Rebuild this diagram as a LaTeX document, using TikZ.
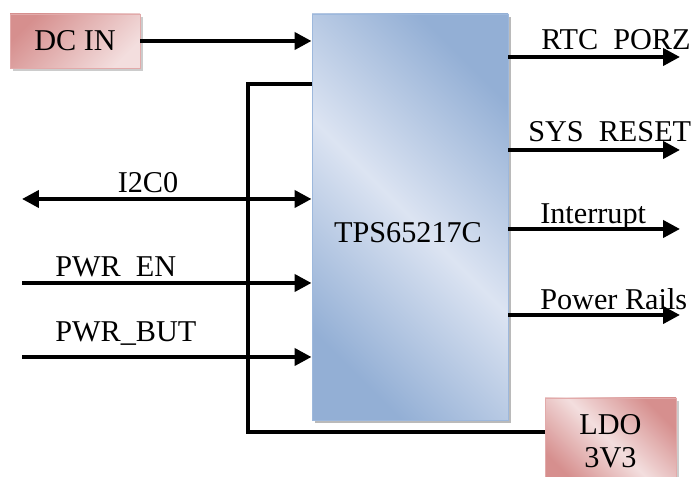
\documentclass[tikz,border=0pt]{standalone}
\usepackage{fontspec}
\setmainfont{Liberation Serif}
\usepackage{xcolor}
\usetikzlibrary{arrows.meta,shadows,calc}

\definecolor{chipdark}{HTML}{93AFD5}
\definecolor{chiplight}{HTML}{DCE4F2}
\definecolor{chipedge}{HTML}{9DB8DC}
\definecolor{supdark}{HTML}{D68F8E}
\definecolor{suplight}{HTML}{F3DEDE}
\definecolor{supedge}{HTML}{E2AAAA}

\tikzset{
  lbl/.style={font=\fontsize{21.5}{23.4}\selectfont, inner sep=0pt},
  chip/.style={draw=chipedge, line width=0.7pt, shading=axis,
    top color=chipdark, bottom color=chipdark, middle color=chiplight,
    shading angle=-45,
    drop shadow={shadow xshift=0.08cm, shadow yshift=-0.08cm, fill=black!45, opacity=0.6}},
  supply/.style={draw=supedge, line width=0.7pt, shading=axis, lbl, align=center,
    drop shadow={shadow xshift=0.07cm, shadow yshift=-0.07cm, fill=black!40, opacity=0.5}},
  wire/.style={line width=0.1cm},
  sig/.style={wire, -{Triangle[length=0.42cm,width=0.42cm]}},
}

\begin{document}
\begin{tikzpicture}
  \useasboundingbox (0,0) rectangle (17.425,11.925);

  % blocks
  \node[chip, minimum width=4.9cm, minimum height=10.15cm] (tps) at (10.25,6.5) {};
  \node[lbl, anchor=base] (tpslbl) at (10.2,5.85) {TPS65217C};
  \node[supply, top color=supdark, bottom color=suplight, shading angle=45,
        minimum width=3.25cm, minimum height=1.35cm] (dcin) at (1.875,10.9) {DC IN};
  \node[supply, top color=supdark, bottom color=supdark, middle color=suplight, shading angle=-45,
        minimum width=3.275cm, minimum height=2.175cm] (ldo) at (15.2625,0.8875) {LDO\\3V3};

  % inputs
  \draw[sig] (dcin.east) -- (tps.west |- dcin.east);
  \coordinate (i2c) at (0.55,6.95);
  \draw[sig, {Triangle[length=0.42cm,width=0.42cm]}-{Triangle[length=0.42cm,width=0.42cm]}]
    (i2c) -- (tps.west |- i2c);
  \foreach \y/\name in {4.85/en, 3.0/but} {
    \coordinate (\name) at (0.55,\y);
    \draw[sig] (\name) -- (tps.west |- \name);
  }
  \node[lbl, anchor=base] (i2clbl) at (3.7,7.1) {I2C0};
  \node[lbl, anchor=base west] (enlbl) at (1.375,5.0) {PWR\enspace EN};
  \node[lbl, anchor=base west] (butlbl) at (1.375,3.375) {PWR\_BUT};

  % 3V3 back into the chip
  \coordinate (ldoin) at (13.625,1.125);
  \coordinate (fb) at (6.2,1.125);
  \coordinate (fbtop) at (6.2,9.825);
  \draw[wire] (ldoin) -- (fb) -- (fbtop) -- (tps.west |- fbtop);

  % outputs
  \foreach \y/\name in {10.5/rtc, 8.175/sys, 6.2/irq, 4.05/rails} {
    \coordinate (\name) at (17,\y);
    \draw[sig] (tps.east |- \name) -- (\name);
  }
  \node[lbl, anchor=base west] (rtclbl) at (13.525,10.675) {RTC\enspace PORZ};
  \node[lbl, anchor=base west] (syslbl) at (13.2,8.375) {SYS\enspace RESET};
  \node[lbl, anchor=base west] (irqlbl) at (13.5,6.325) {Interrupt};
  \node[lbl, anchor=base west] (railslbl) at (13.5,4.175) {Power Rails};
\end{tikzpicture}
\end{document}
